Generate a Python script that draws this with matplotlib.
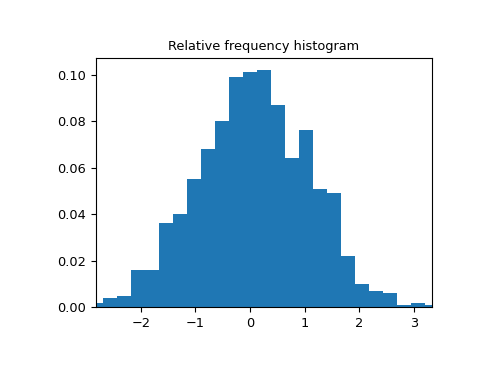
import numpy as np
import matplotlib
matplotlib.use("Agg")
import matplotlib.pyplot as plt

# -----------------------------
# Data — relative frequencies (25 bins)
# -----------------------------
LOWER_LIMIT = -2.818
BIN_SIZE = 0.2459
frequency = np.array([
    0.002, 0.004, 0.005, 0.016, 0.016, 0.036, 0.040, 0.055, 0.068, 0.080,
    0.099, 0.101, 0.102, 0.087, 0.064, 0.076, 0.051, 0.049, 0.022, 0.010,
    0.007, 0.006, 0.001, 0.002, 0.001,
])

# bar centres, laid out the same way as the scipy relfreq example
x = LOWER_LIMIT + np.linspace(0, BIN_SIZE * frequency.size, frequency.size)

# -----------------------------
# Chart
# -----------------------------
fig = plt.figure(figsize=(4.8, 3.84), dpi=100)
ax = fig.add_subplot(1, 1, 1)
fig.subplots_adjust(left=0.2, right=0.9, bottom=0.2, top=0.849)

ax.bar(x, frequency, width=BIN_SIZE, color="#1f77b4")
ax.set_title("Relative frequency histogram", fontsize=9.3)
ax.set_xlim([x.min(), x.max()])
ax.tick_params(labelsize=9.3)

fig.savefig("out.png", dpi=100)
plt.close(fig)
